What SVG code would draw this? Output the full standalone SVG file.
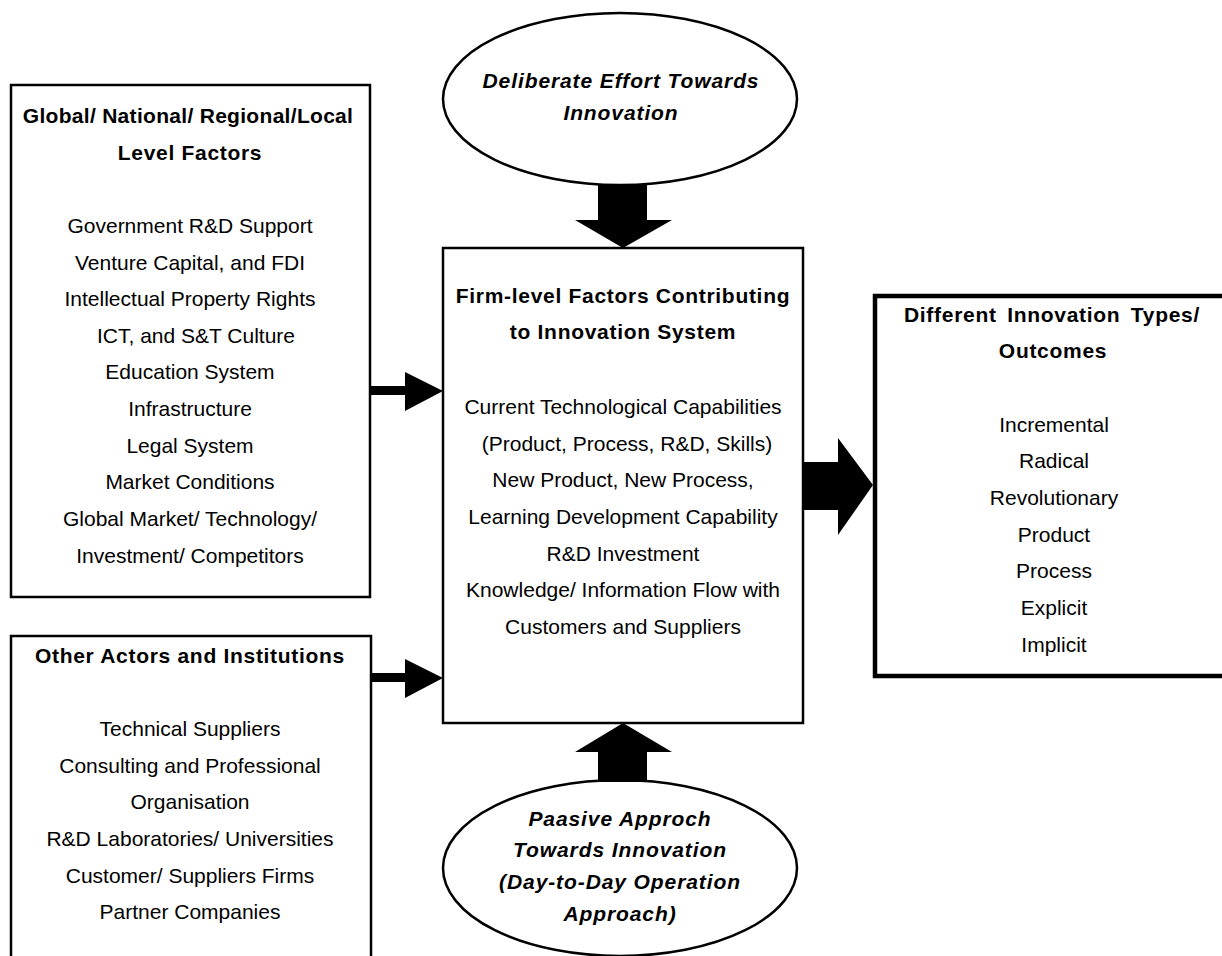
<svg xmlns="http://www.w3.org/2000/svg" width="1222" height="956" viewBox="0 0 1222 956">
<style>
.box{fill:#fff;stroke:#000;stroke-width:2.5}
.thick{fill:#fff;stroke:#000;stroke-width:4.5}
.ell{fill:#fff;stroke:#000;stroke-width:2.5}
.arr{fill:#000;stroke:none}
text{font-family:"Liberation Sans",Arial,sans-serif;font-size:21px;fill:#000;text-anchor:middle}
.b{font-weight:bold;letter-spacing:0.7px}
.bi{font-weight:bold;font-style:italic;letter-spacing:0.9px}
</style>
<rect width="1222" height="956" fill="#fff"/>
<g id="global-factors">
<rect class="box" x="11" y="85" width="359" height="512"/>
<text class="b" x="188" y="123" style="letter-spacing:0.3px">Global/ National/ Regional/Local</text>
<text class="b" x="190" y="160">Level Factors</text>
<text x="190" y="233">Government R&amp;D Support</text>
<text x="190" y="270">Venture Capital, and FDI</text>
<text x="190" y="306">Intellectual Property Rights</text>
<text x="196" y="343">ICT, and S&amp;T Culture</text>
<text x="190" y="379">Education System</text>
<text x="190" y="416">Infrastructure</text>
<text x="190" y="453">Legal System</text>
<text x="190" y="489">Market Conditions</text>
<text x="190" y="526">Global Market/ Technology/</text>
<text x="190" y="563">Investment/ Competitors</text>
</g>
<g id="other-actors">
<rect class="box" x="11" y="636" width="360" height="330"/>
<text class="b" x="190" y="663">Other Actors and Institutions</text>
<text x="190" y="736">Technical Suppliers</text>
<text x="190" y="773">Consulting and Professional</text>
<text x="190" y="809">Organisation</text>
<text x="190" y="846">R&amp;D Laboratories/ Universities</text>
<text x="190" y="883">Customer/ Suppliers Firms</text>
<text x="190" y="919">Partner Companies</text>
</g>
<g id="deliberate">
<ellipse class="ell" cx="620" cy="99" rx="177" ry="86"/>
<text class="bi" x="621" y="88">Deliberate Effort Towards</text>
<text class="bi" x="621" y="120">Innovation</text>
</g>
<g id="firm-level">
<rect class="box" x="443" y="248" width="360" height="475"/>
<text class="b" x="623" y="303">Firm-level Factors Contributing</text>
<text class="b" x="623" y="339">to Innovation System</text>
<text x="623" y="414">Current Technological Capabilities</text>
<text x="627" y="451">(Product, Process, R&amp;D, Skills)</text>
<text x="623" y="487">New Product, New Process,</text>
<text x="623" y="524">Learning Development Capability</text>
<text x="623" y="561">R&amp;D Investment</text>
<text x="623" y="597">Knowledge/ Information Flow with</text>
<text x="623" y="634">Customers and Suppliers</text>
</g>
<g id="outcomes">
<rect class="thick" x="875" y="296" width="360" height="380"/>
<text class="b" x="1052" y="322" style="word-spacing:4px">Different Innovation Types/</text>
<text class="b" x="1053" y="358">Outcomes</text>
<text x="1054" y="432">Incremental</text>
<text x="1054" y="468">Radical</text>
<text x="1054" y="505">Revolutionary</text>
<text x="1054" y="542">Product</text>
<text x="1054" y="578">Process</text>
<text x="1054" y="615">Explicit</text>
<text x="1054" y="652">Implicit</text>
</g>
<g id="passive">
<ellipse class="ell" cx="620" cy="868" rx="177" ry="88"/>
<text class="bi" x="620" y="826">Paasive Approch</text>
<text class="bi" x="620" y="857">Towards Innovation</text>
<text class="bi" x="620" y="889">(Day-to-Day Operation</text>
<text class="bi" x="620" y="921">Approach)</text>
</g>
<g id="connectors">
<polygon class="arr" points="598,185 647,185 647,220 672,220 623,248 575,220 598,220"/>
<polygon class="arr" points="598,782 647,782 647,752 672,752 623,723 575,752 598,752"/>
<polygon class="arr" points="803,462 838,462 838,438 873,485 838,535 838,510 803,510"/>
<polygon class="arr" points="371,386 405,386 405,372 443,391 405,411 405,395 371,395"/>
<polygon class="arr" points="371,673 405,673 405,659 443,678 405,698 405,682 371,682"/>
</g>
</svg>
